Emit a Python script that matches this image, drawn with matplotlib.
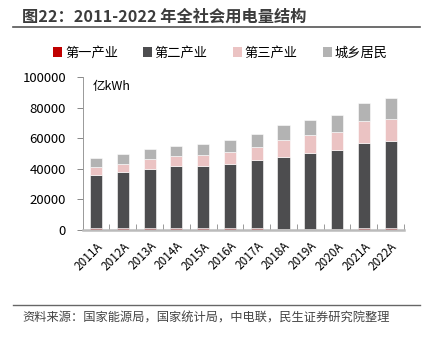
import matplotlib
matplotlib.use("Agg")
import matplotlib.pyplot as plt
from matplotlib.lines import Line2D
from matplotlib.patches import Patch
import numpy as np

plt.rcParams['font.family'] = ['Noto Sans CJK SC', 'DejaVu Sans']

years = ['2011A', '2012A', '2013A', '2014A', '2015A', '2016A',
         '2017A', '2018A', '2019A', '2020A', '2021A', '2022A']
primary = [1013, 1013, 1014, 994, 1020, 1075, 1155, 728, 780, 859, 1023, 1146]
secondary = [35185, 36669, 39143, 40650, 40800, 42108, 44413, 47235, 49362, 51215, 56131, 57001]
tertiary = [5082, 5690, 6273, 6660, 7158, 7961, 8814, 10801, 11863, 12087, 14231, 14859]
residential = [5620, 6219, 6793, 6928, 7276, 8054, 8695, 9685, 10250, 10949, 11743, 13366]
series_names = ['第一产业', '第二产业', '第三产业', '城乡居民']
colors = ['#C00000', '#4D4D4F', '#EBC3C3', '#B3B3B3']

W, H = 428, 338
fig = plt.figure(figsize=(W / 100, H / 100), dpi=100)

ax = fig.add_axes([82.7 / W, 1 - 230 / H, (404 - 82.7) / W, (230 - 77.3) / H])
x = np.arange(len(years))
bottom = np.zeros(len(years))
for vals, c in zip([primary, secondary, tertiary, residential], colors):
    ax.bar(x, vals, bottom=bottom, width=0.45, color=c, edgecolor='white', linewidth=0.4, zorder=2)
    bottom += np.array(vals)

ax.set_xlim(-0.5, len(years) - 0.5)
ax.set_ylim(0, 100000)
ax.set_yticks(np.arange(0, 100001, 20000))
ax.set_yticklabels([str(v) for v in range(0, 100001, 20000)], fontsize=9.5, color='black')
ax.tick_params(axis='y', direction='out', length=4, width=0.7, color='#888888', pad=8)

ax.set_xticks(x)
ax.set_xticklabels(years, rotation=45, ha='right', rotation_mode='anchor', fontsize=8.5)
ax.tick_params(axis='x', length=0, pad=7)
ax.set_xticks(np.arange(-0.5, len(years) + 0.5, 1), minor=True)
ax.tick_params(axis='x', which='minor', direction='in', length=4, width=0.7, color='#999999')

for s in ['top', 'right']:
    ax.spines[s].set_visible(False)
ax.spines['left'].set_color('#999999')
ax.spines['left'].set_linewidth(0.7)
ax.spines['bottom'].set_color('#BBBBBB')
ax.spines['bottom'].set_linewidth(1.8)

ax.text(0.03, 0.985, '亿kWh', transform=ax.transAxes, fontsize=9, va='top', ha='left')

fig.text(22 / W, 1 - 17 / H, '图22：2011-2022 年全社会用电量结构', fontsize=11.7, fontweight='bold',
         color='#3C3C3C', va='center', ha='left')
fig.add_artist(Line2D([13 / W, 420 / W], [1 - 26.5 / H, 1 - 26.5 / H], color='#555555', linewidth=1.2))

handles = [Patch(facecolor=c, edgecolor='none') for c in colors]
fig.legend(handles, series_names, loc='center', bbox_to_anchor=(0.515, 1 - 53 / H), ncol=4,
           frameon=False, fontsize=9.5, handlelength=0.7, handleheight=0.7, handletextpad=0.2,
           columnspacing=1.9)

fig.add_artist(Line2D([13 / W, 420 / W], [1 - 305 / H, 1 - 305 / H], color='#666666', linewidth=1.0))
fig.text(22 / W, 1 - 318 / H, '资料来源：国家能源局，国家统计局，中电联，民生证券研究院整理', fontsize=8.8,
         color='#444444', va='center', ha='left')

fig.savefig('out.png', dpi=100)
